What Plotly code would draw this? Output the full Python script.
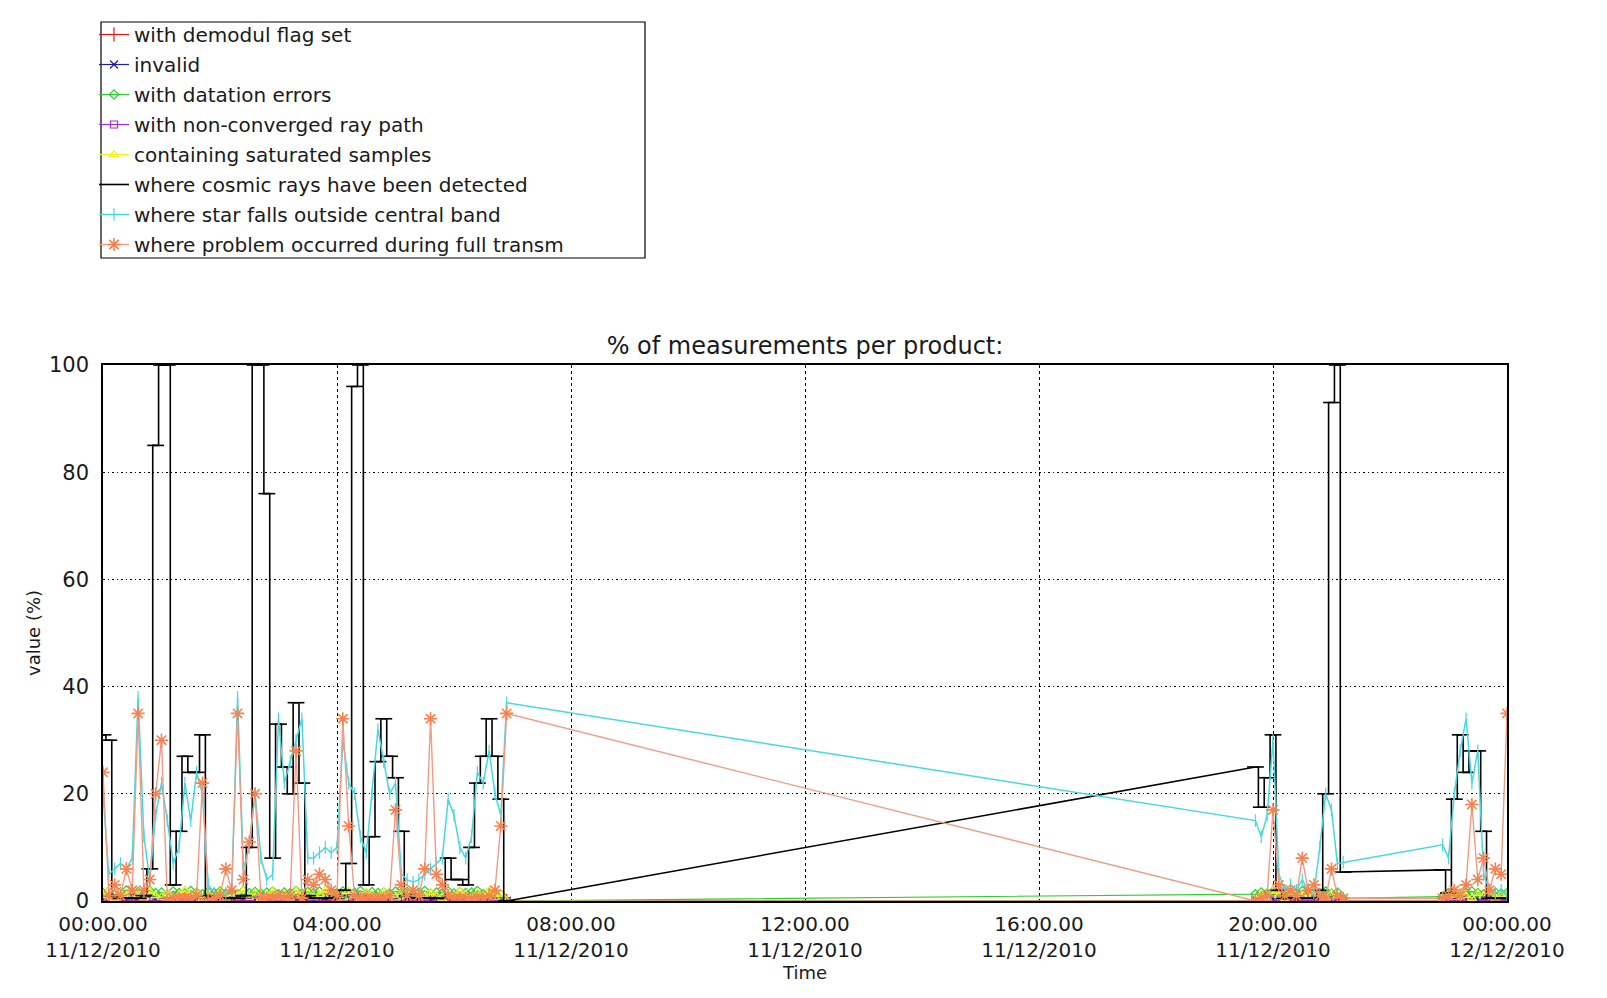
import plotly.graph_objects as go
from datetime import datetime, timedelta

# ---------------- data ----------------
HOURS = [
    0.0, 0.1, 0.2, 0.3, 0.4, 0.5, 0.6, 0.7, 0.8, 0.9,
    1.0, 1.1, 1.2, 1.3, 1.4, 1.5, 1.6, 1.7, 1.8, 1.9,
    2.0, 2.1, 2.2, 2.3, 2.4, 2.5, 2.6, 2.7, 2.8, 2.9,
    3.0, 3.1, 3.2, 3.3, 3.4, 3.5, 3.6, 3.7, 3.8, 3.9,
    4.0, 4.1, 4.2, 4.3, 4.4, 4.5, 4.6, 4.7, 4.8, 4.9,
    5.0, 5.1, 5.2, 5.3, 5.4, 5.5, 5.6, 5.7, 5.8, 5.9,
    6.0, 6.1, 6.2, 6.3, 6.4, 6.5, 6.6, 6.7, 6.8, 6.9,
    19.7, 19.8, 19.9, 20.0, 20.1, 20.2, 20.3, 20.4, 20.5, 20.6,
    20.7, 20.8, 20.9, 21.0, 21.1, 21.2,
    22.9, 23.0, 23.1, 23.2, 23.3, 23.4, 23.5, 23.6, 23.7, 23.8,
    23.9, 24.0,
]

DEMODUL = [
    0, 0, 0, 0, 0, 0, 0, 0, 0, 0,
    0, 0, 0, 0, 0, 0, 0, 0, 0, 0,
    0, 0, 0, 0, 0, 0, 0, 0, 0, 0,
    0, 0, 0, 0, 0, 0, 0, 0, 0, 0,
    0, 0, 0, 0, 0, 0, 0, 0, 0, 0,
    0, 0, 0, 0, 0, 0, 0, 0, 0, 0,
    0, 0, 0, 0, 0, 0, 0, 0, 0, 0,
    0, 0, 0, 0, 0, 0, 0, 0, 0, 0,
    0, 0, 0, 0, 0, 0,
    0, 0, 0, 0, 0, 0, 0, 0, 0, 0,
    0, 0,
]

INVALID = [
    0.5, 1, 0.5, 0.8, 0.3, 1, 0.6, 0.4, 1, 0.5,
    0.8, 0.3, 1, 0.6, 0.5, 0.9, 0.4, 0.7, 1, 0.5,
    0.6, 0.3, 0.8, 1, 0.5, 0.7, 0.4, 0.9, 0.6, 0.5,
    1, 0.4, 0.7, 0.5, 0.9, 0.6, 0.3, 0.8, 0.5, 1,
    0.6, 0.4, 0.9, 0.5, 0.7, 1, 0.3, 0.6, 0.8, 0.5,
    0.4, 0.9, 0.6, 1, 0.5, 0.7, 0.3, 0.8, 0.6, 0.4,
    1, 0.5, 0.7, 0.4, 0.9, 0.6, 0.5, 0.8, 0.4, 0,
    0, 0.6, 1, 0.4, 0.8, 0.5, 0.9, 0.3, 0.7, 1,
    0.5, 0.6, 0.4, 0.8, 0.5, 0,
    0, 0.7, 0.4, 1, 0.5, 0.8, 0.3, 0.6, 0.9, 0.5,
    0.7, 0.4,
]

DATATION = [
    1.5, 1.8, 1.2, 1.6, 2, 1.4, 1.7, 1.3, 1.9, 1.5,
    1.6, 1.2, 1.8, 1.5, 1.4, 1.9, 1.6, 1.3, 1.7, 1.5,
    1.8, 1.4, 1.6, 1.2, 1.9, 1.5, 1.7, 1.4, 1.6, 1.8,
    1.3, 1.6, 1.5, 1.9, 1.4, 1.7, 1.5, 1.8, 1.3, 1.6,
    1.5, 1.8, 1.4, 1.6, 1.9, 1.3, 1.7, 1.5, 1.6, 1.4,
    1.8, 1.5, 1.7, 1.3, 1.6, 1.9, 1.4, 1.6, 1.5, 1.8,
    1.4, 1.7, 1.5, 1.6, 1.9, 1.3, 1.6, 1.5, 1.2, 0,
    1.3, 1.6, 1.4, 1.8, 1.5, 1.7, 1.3, 1.6, 1.9, 1.4,
    1.6, 1.5, 1.8, 1.4, 1.6, 0.5,
    0.8, 1.5, 1.7, 1.4, 1.6, 1.8, 1.5, 1.3, 1.7, 1.6,
    1.4, 1.5,
]

NONCONVERGED = [
    0, 0, 0, 0, 0, 0, 0, 0, 0, 0,
    0, 0, 0, 0, 0, 0, 0, 0, 0, 0,
    0, 0, 0, 0, 0, 0, 0, 0, 0, 0,
    0, 0, 0, 0, 0, 0, 0, 0, 0, 0,
    0, 0, 0, 0, 0, 0, 0, 0, 0, 0,
    0, 0, 0, 0, 0, 0, 0, 0, 0, 0,
    0, 0, 0, 0, 0, 0, 0, 0, 0, 0,
    0, 0, 0, 0, 0, 0, 0, 0, 0, 0,
    0, 0, 0, 0, 0, 0,
    0, 0, 0, 0, 0, 0, 0, 0, 0, 0,
    0, 0,
]

SATURATED = [
    1, 2, 0.5, 1.5, 0.8, 2, 1.2, 0.6, 1.8, 1,
    0.7, 1.5, 0.4, 1.2, 2, 0.8, 1.6, 0.5, 1.3, 0.9,
    1.7, 0.6, 1.4, 1, 2, 0.7, 1.5, 0.5, 1.1, 1.8,
    0.8, 1.3, 0.6, 1.9, 1, 1.5, 0.7, 1.2, 2, 0.9,
    1.4, 0.6, 1.8, 1, 0.5, 1.6, 1.1, 0.8, 1.7, 1.2,
    0.6, 1.5, 0.9, 2, 1.2, 0.7, 1.6, 1, 0.5, 1.4,
    0.8, 1.8, 1.1, 0.6, 1.5, 1, 1.9, 0.7, 1.3, 0,
    0, 1.2, 0.6, 1.8, 1, 0.5, 1.5, 0.8, 1.3, 0.7,
    1.6, 1, 0.6, 1.4, 0.9, 0,
    0, 1.1, 0.7, 1.6, 1, 0.5, 1.4, 0.9, 1.7, 0.6,
    1.2, 1,
]

COSMIC = [
    31, 30, 1, 0.5, 0.5, 0.5, 0.5, 1, 6, 85,
    100, 100, 3, 13, 27, 24, 24, 31, 1, 0.5,
    0.5, 0.5, 0.5, 0.5, 1, 10, 100, 100, 76, 8,
    33, 25, 20, 37, 22, 1, 0.5, 0.5, 0.5, 0.5,
    1, 2, 7, 96, 100, 3, 12, 26, 34, 27,
    23, 13, 1, 0.5, 0.5, 0.5, 0.5, 0.5, 0.5, 8,
    4, 4, 3, 10, 22, 27, 34, 27, 19, 0,
    25, 17.5, 23, 31, 2, 0.5, 0.5, 0.5, 0.5, 0.5,
    0.5, 2, 20, 93, 100, 5.4,
    5.8, 1.5, 19, 31, 24, 28, 28, 13, 0.5, 0.5,
    0.5, 0.5,
]

STAR_OUTSIDE = [
    20, 5, 6, 7, 6, 8, 38, 12, 4, 16,
    22, 15, 7, 10, 22, 15, 24, 20, 3, 1.5,
    1, 1.5, 2, 38, 6, 10, 20, 8, 4, 5,
    34, 22, 26, 30, 34, 8, 8, 9, 10, 9,
    10, 30, 22, 20, 12, 9, 20, 32, 26, 20,
    22, 5, 4, 3.5, 4, 5, 6, 7, 8, 19,
    16, 10, 8, 12, 24, 22, 28, 20, 16, 37,
    15, 12, 16, 30, 5, 2, 3, 2, 4, 2,
    1.5, 10, 20, 17, 7, 7.2,
    10.5, 8, 20, 28, 34, 22, 28, 5, 2, 1.5,
    2, 1,
]

FULL_TRANSM = [
    24, 1, 3, 1, 6, 2, 35, 2, 4, 20,
    30, 0, 0.5, 0.5, 0.5, 0.5, 1, 22, 0, 0.5,
    1, 6, 2, 35, 4, 11, 20, 0.5, 0.5, 0.5,
    1, 0.5, 1, 28, 0.5, 4, 3, 5, 4, 2,
    1, 34, 14, 1, 0.5, 0.5, 0.5, 0.5, 0.5, 1,
    17, 3, 1, 2, 1, 6, 34, 5, 3, 1,
    0.5, 0.5, 0.5, 0.5, 0.5, 0.5, 1, 2, 14, 35,
    0, 0.5, 1, 17, 3, 1, 2, 1, 8, 2,
    3, 1, 0.5, 6, 1, 0.5,
    0.5, 1, 2, 1, 3, 18, 4, 8, 2, 6,
    5, 35,
]

NAMES = [
    "with demodul flag set",
    "invalid",
    "with datation errors",
    "with non-converged ray path",
    "containing saturated samples",
    "where cosmic rays have been detected",
    "where star falls outside central band",
    "where problem occurred during full transm",
]

TITLE = "% of measurements per product:"
X_TITLE = "Time"
Y_TITLE = "value (%)"

# ---------------- figure ----------------
base = datetime(2010, 12, 11)
times = [base + timedelta(hours=h) for h in HOURS]

FONT = "DejaVu Sans"
TXT = "#1a1a1a"
W, H = 1607, 998
L, R, T, B = 95, 108, 357, 105
PW, PH = W - L - R, H - T - B

fig = go.Figure()


def add_series(i, y, color, symbol, size, mcolor=None, lw=1.2, mlw=1.2):
    mcolor = mcolor or color
    fig.add_trace(go.Scatter(
        x=times, y=y, name=NAMES[i], mode="lines+markers",
        legendgroup=f"g{i}",
        line=dict(color=color, width=lw),
        marker=dict(symbol=symbol, size=size, color=mcolor,
                    line=dict(color=mcolor, width=mlw)),
    ))


add_series(0, DEMODUL, "#E01818", "cross-thin", 10)
add_series(1, INVALID, "#1C1C9C", "x-thin", 8)
add_series(2, DATATION, "#2ECC2E", "diamond-open", 7)
add_series(3, NONCONVERGED, "#A030E0", "square-open", 7)
add_series(4, SATURATED, "#F0F020", "triangle-up-open", 8)

# cosmic rays: stepped inside each acquisition block, straight across data gaps
segments = []
start = 0
for k in range(1, len(HOURS)):
    if HOURS[k] - HOURS[k - 1] > 0.5:
        segments.append((start, k))
        start = k
segments.append((start, len(HOURS)))

for n, (a, b) in enumerate(segments):
    fig.add_trace(go.Scatter(
        x=times[a:b], y=COSMIC[a:b], name=NAMES[5], mode="lines",
        legendgroup="g5", showlegend=(n == 0),
        line=dict(color="black", width=1.6, shape="hvh"),
    ))
    if n > 0:
        fig.add_trace(go.Scatter(
            x=[times[a - 1], times[a]], y=[COSMIC[a - 1], COSMIC[a]],
            mode="lines", legendgroup="g5", showlegend=False, hoverinfo="skip",
            line=dict(color="black", width=1.6),
        ))
fig.add_trace(go.Scatter(
    x=times, y=COSMIC, mode="markers", legendgroup="g5", showlegend=False,
    hoverinfo="skip",
    marker=dict(symbol="line-ew", size=12, color="black",
                line=dict(color="black", width=1.6)),
))

add_series(6, STAR_OUTSIDE, "#48D8E0", "line-ns", 9, lw=1.5, mlw=1.2)
add_series(7, FULL_TRANSM, "#EE9C86", "asterisk", 11,
           mcolor="#F58250", lw=1.4, mlw=1.6)


def px_to_paper_x(px):
    return (px - L) / PW


def px_to_paper_y(py):
    return (H - B - py) / PH


# legend frame
fig.add_shape(type="rect", xref="paper", yref="paper",
              x0=px_to_paper_x(93), x1=px_to_paper_x(637),
              y0=px_to_paper_y(250), y1=px_to_paper_y(14),
              line=dict(color="black", width=1.2), fillcolor="rgba(0,0,0,0)")

# y-axis title
fig.add_annotation(text=Y_TITLE, xref="paper", yref="paper",
                   x=px_to_paper_x(25), y=0.5, textangle=-90,
                   xanchor="center", yanchor="middle", showarrow=False,
                   font=dict(family=FONT, size=18, color=TXT))

fig.update_layout(
    width=W, height=H,
    margin=dict(l=L, r=R, t=T, b=B, autoexpand=False),
    paper_bgcolor="white", plot_bgcolor="white",
    font=dict(family=FONT, color=TXT, size=18),
    title=dict(text=TITLE, x=0.5, xref="paper", xanchor="center",
               y=1 - 338 / H, yref="container", yanchor="middle",
               font=dict(family=FONT, size=24, color=TXT)),
    legend=dict(x=86 / W, y=1 - 7 / H, xref="container", yref="container",
                xanchor="left", yanchor="top",
                bgcolor="rgba(0,0,0,0)", borderwidth=0,
                font=dict(family=FONT, size=20, color=TXT),
                itemwidth=30, tracegroupgap=1, traceorder="grouped"),
    showlegend=True,
)

fig.update_xaxes(
    type="date",
    range=[base, base + timedelta(hours=24)],
    tick0=base, dtick=4 * 3600 * 1000,
    tickformat="%H:%M.%S<br>%d/%m/%Y",
    tickfont=dict(family=FONT, size=20, color=TXT),
    ticklabelstandoff=4,
    showgrid=True, gridcolor="black", gridwidth=1, griddash="3px,3px",
    showline=True, linecolor="black", linewidth=1.5, mirror=True,
    ticks="", zeroline=False,
    title=dict(text=X_TITLE, standoff=1,
               font=dict(family=FONT, size=18, color=TXT)),
)
fig.update_yaxes(
    range=[0, 100], dtick=20, tick0=0,
    tickfont=dict(family=FONT, size=21, color=TXT),
    ticklabelstandoff=8,
    showgrid=True, gridcolor="black", gridwidth=1.2, griddash="1.5px,3px",
    showline=True, linecolor="black", linewidth=1.5, mirror=True,
    ticks="", zeroline=False,
)

fig.write_html("out.html")
